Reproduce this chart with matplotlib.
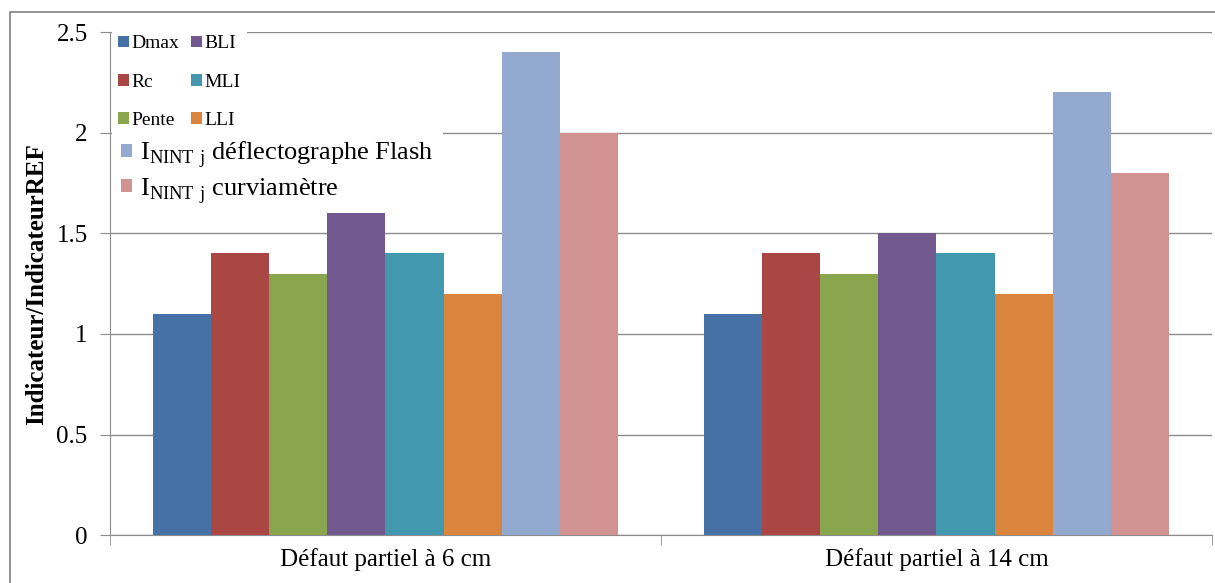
import matplotlib.pyplot as plt
import matplotlib.patches as mpatches
import numpy as np

plt.rcParams['font.family'] = ['Liberation Serif', 'DejaVu Serif']
plt.rcParams['mathtext.fontset'] = 'custom'
plt.rcParams['mathtext.rm'] = 'Liberation Serif'

categories = ['Défaut partiel à 6 cm', 'Défaut partiel à 14 cm']
series = ['Dmax', 'Rc', 'Pente', 'BLI', 'MLI', 'LLI',
          r'I$_{\mathregular{NINT\ j}}$ déflectographe Flash',
          r'I$_{\mathregular{NINT\ j}}$ curviamètre']
values = [
    [1.1, 1.1],
    [1.4, 1.4],
    [1.3, 1.3],
    [1.6, 1.5],
    [1.4, 1.4],
    [1.2, 1.2],
    [2.4, 2.2],
    [2.0, 1.8],
]
colors = ['#4571A6', '#AA4744', '#89A54E', '#71588F',
          '#4198AF', '#DB843D', '#93A9CF', '#D19392']

fig = plt.figure(figsize=(12.15, 5.83), dpi=100)
ax = fig.add_axes([0.0905, 0.082, 0.907, 0.863])

# outer frame
fig.patches.append(mpatches.Rectangle((10/1215, -0.05), 1.2, 1 - 12/583 + 0.05,
                                      transform=fig.transFigure, fill=False,
                                      edgecolor='#7f7f7f', linewidth=1.2))

n = len(series)
w = 0.844 / n
x = np.arange(len(categories))
handles = []
for i in range(n):
    b = ax.bar(x - 0.422 + w * (i + 0.5), values[i], w, color=colors[i],
               zorder=2, label=series[i])
    handles.append(b)

ax.set_xlim(-0.5, 1.5)
ax.set_ylim(0, 2.5)
ax.set_yticks([0, 0.5, 1, 1.5, 2, 2.5])
ax.set_yticklabels(['0', '0.5', '1', '1.5', '2', '2.5'], fontsize=18)
ax.yaxis.grid(True, color='#8c8c8c', linewidth=1)
ax.set_axisbelow(True)

ax.set_xticks(x)
ax.set_xticklabels(categories, fontsize=18)
ax.tick_params(axis='x', length=0, pad=9)
ax.set_xticks([-0.5, 0.5, 1.5], minor=True)
ax.tick_params(axis='x', which='minor', length=7, color='#8c8c8c', direction='out')
ax.tick_params(axis='y', length=7, color='#8c8c8c', direction='out', pad=9)

for s in ['top', 'right']:
    ax.spines[s].set_visible(False)
ax.spines['left'].set_color('#8c8c8c')
ax.spines['bottom'].set_color('#8c8c8c')
ax.spines['left'].set_zorder(6)

ax.set_ylabel('Indicateur/IndicateurREF', fontsize=18, fontweight='bold', labelpad=6)

# legend: small entries in two columns, long entries below
# (kept above the grid but below the bars)
leg1 = ax.legend(handles[:6], series[:6], ncol=2, loc='upper left',
                 bbox_to_anchor=(0.002, 1.005), fontsize=14, frameon=True,
                 handlelength=0.55, handleheight=0.55, handletextpad=0.15,
                 columnspacing=0.6, labelspacing=1.1, borderaxespad=0,
                 borderpad=0.3, fancybox=False)
leg1.get_frame().set_edgecolor('none')
leg1.get_frame().set_facecolor('white')
leg1.get_frame().set_alpha(1)
leg1.set_zorder(1)
ax.add_artist(leg1)

leg2 = ax.legend(handles[6:], series[6:], loc='upper left',
                 bbox_to_anchor=(0.002, 0.805), fontsize=19, frameon=True,
                 handlelength=0.4, handleheight=0.4, handletextpad=0.3,
                 labelspacing=0.2, borderaxespad=0, borderpad=0.35,
                 fancybox=False)
leg2.get_frame().set_edgecolor('none')
leg2.get_frame().set_facecolor('white')
leg2.get_frame().set_alpha(1)
leg2.set_zorder(1)

plt.savefig('out.png', dpi=100)
